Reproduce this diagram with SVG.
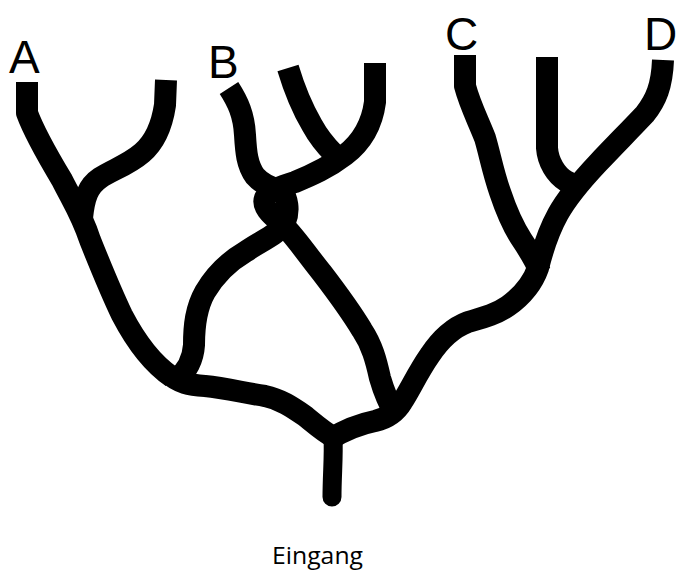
<svg xmlns="http://www.w3.org/2000/svg" width="679" height="572" viewBox="0 0 679 572">
<style>
.p{fill:none;stroke:#000;stroke-width:22;stroke-linejoin:round;stroke-linecap:butt}
.r{stroke-linecap:round;stroke-width:19}
.lbl{font-family:"Liberation Sans",Arial,sans-serif;font-size:46px;fill:#000}
.cap{font-family:"Open Sans","Liberation Sans",sans-serif;font-size:24px;fill:#000}
</style>
<rect width="679" height="572" fill="#fff"/>
<g id="paths">
<path class="p" d="M27,82 L27,113 C35,135 50,160 62,180 C72,200 82,215 90,240 C100,265 110,290 122,315 C135,340 150,362 172,377"/>
<path class="p" d="M166,80 L165,105 C162,125 155,142 142,153 C128,165 112,170 100,178 C88,186 84,198 82,218"/>
<path class="p" d="M229,88 C238,102 244,115 245,135 C246,152 247,165 255,176 C262,184 272,188 280,190"/>
<path class="p" d="M288,68 C294,88 302,108 312,125 C318,136 325,145 334,154"/>
<path class="p" d="M375,63 L375,102 C372,125 362,142 345,155 C328,168 312,175 295,182 C282,186 270,190 265,198 C262,206 270,214 280,222 C292,232 305,252 322,273 C335,290 350,310 362,330 C372,345 376,360 380,378 C384,392 388,402 396,416"/>
<path class="p" d="M282,190 C287,198 290,210 285,222 C278,235 262,240 245,252 C228,262 215,275 205,292 C196,308 194,325 194,345 C193,360 186,372 176,380"/>
<path class="p" d="M168,373 C178,383 190,385 205,386 C225,388 245,393 265,396 C280,399 292,407 305,416 C316,425 325,433 335,438"/>
<path class="p r" d="M333,437 C334,455 332,475 332,497"/>
<path class="p" d="M330,439 C345,430 360,424 375,421 C388,418 396,412 402,402 C410,390 418,372 430,355 C440,340 452,328 468,322 C482,318 495,315 508,306 C522,296 532,285 538,268 C542,252 548,232 558,214 C568,196 582,180 598,163 C612,148 628,132 645,114 C656,100 662,86 663,60"/>
<path class="p" d="M465,55 L465,86 C470,105 478,120 485,138 C490,155 493,172 500,192 C506,210 512,225 522,240 C530,252 536,262 540,272"/>
<path class="p" d="M547,57 L547,100 L547,148 C548,162 556,175 566,181 C572,185 576,186 582,186"/>
</g>
<g id="labels">
<text class="lbl" x="9" y="73">A</text>
<text class="lbl" x="208" y="78">B</text>
<text class="lbl" x="445" y="50">C</text>
<text class="lbl" x="644" y="50">D</text>
<text class="cap" x="272" y="564" textLength="91" lengthAdjust="spacingAndGlyphs">Eingang</text>
</g>
</svg>
